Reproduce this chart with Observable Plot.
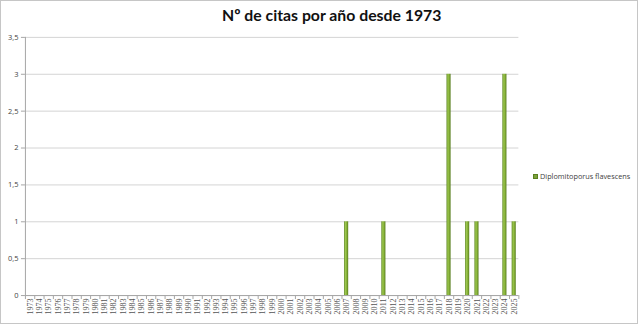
<!DOCTYPE html>
<html><head><meta charset="utf-8">
<script src="https://cdn.jsdelivr.net/npm/d3@7"></script>
<script src="https://cdn.jsdelivr.net/npm/@observablehq/plot@0.6"></script>
<style>
body{margin:0;background:#fff;}
#wrap{position:relative;width:638px;height:324px;box-sizing:border-box;border:1px solid #c6c6c6;background:#fff;overflow:hidden;}
#title{position:absolute;left:221px;top:4px;white-space:nowrap;font:bold 15.8px Lato, "Open Sans", sans-serif;color:#111;}
#legend{position:absolute;left:532px;top:170px;font:7.3px "Open Sans", sans-serif;color:#404040;white-space:nowrap;}
#legend span{display:inline-block;width:5px;height:5px;background:#7ba23a;border:1px solid #5a8020;box-sizing:border-box;margin-right:2px;vertical-align:0px;}
#chart{position:absolute;left:0;top:0;}
</style></head>
<body>
<div id="wrap">
<div id="chart"></div>
<div id="title">Nº de citas por año desde 1973</div>
<div id="legend"><span></span>Diplomitoporus flavescens</div>
</div>
<script>
const years = d3.range(1973, 2026);
const seriesName = "Diplomitoporus flavescens";
const citeYears = [2007, 2011, 2018, 2020, 2021, 2024, 2025];
const citeCounts = [1, 1, 3, 1, 1, 3, 1];
const yTicks = [0, 0.5, 1, 1.5, 2, 2.5, 3, 3.5];

const data = citeYears.map((y, i) => ({year: y, n: citeCounts[i]}));
const lo = years[0] - 0.5, hi = years[years.length - 1] + 0.5;
const bounds = d3.range(lo, hi + 0.01, 1);

const plot = Plot.plot({
  width: 638, height: 324,
  marginLeft: 24, marginRight: 119, marginTop: 36, marginBottom: 29,
  x: {domain: [lo, hi]},
  y: {domain: [0, 3.5]},
  style: {background: "transparent"},
  marks: [
    Plot.gridY(yTicks, {stroke: "#d4d4d4", strokeOpacity: 1}),
    Plot.rectY(data, {x1: d => d.year - 0.22, x2: d => d.year + 0.22, y: "n", fill: "url(#bargrad)"}),
    Plot.ruleX([lo], {stroke: "#a6a6a6"}),
    Plot.ruleY([0], {stroke: "#a6a6a6"}),
    Plot.axisY(yTicks, {tickSize: 4, stroke: "#a6a6a6", tickPadding: 3, label: null, tickFormat: d => String(d).replace(".", ","), fontSize: 7.5, fill: "#444", fontFamily: "'Open Sans', sans-serif"}),
    Plot.axisX(bounds, {tickSize: 4, stroke: "#a6a6a6", tickFormat: () => "", label: null}),
    Plot.axisX(years, {tickSize: 0, tickPadding: 3, tickRotate: -90, tickFormat: d => String(d), fontSize: 8, fill: "#555", fontFamily: "'Liberation Serif', serif", label: null})
  ]
});
const defs = d3.select(plot).insert("defs", ":first-child");
const g = defs.append("linearGradient").attr("id", "bargrad").attr("x1", "0").attr("x2", "1").attr("y1", "0").attr("y2", "0");
g.append("stop").attr("offset", "0").attr("stop-color", "#5d8522");
g.append("stop").attr("offset", "0.35").attr("stop-color", "#9cc74e");
g.append("stop").attr("offset", "0.65").attr("stop-color", "#84ae36");
g.append("stop").attr("offset", "1").attr("stop-color", "#557b1c");
document.getElementById("chart").appendChild(plot);
</script>
</body></html>
